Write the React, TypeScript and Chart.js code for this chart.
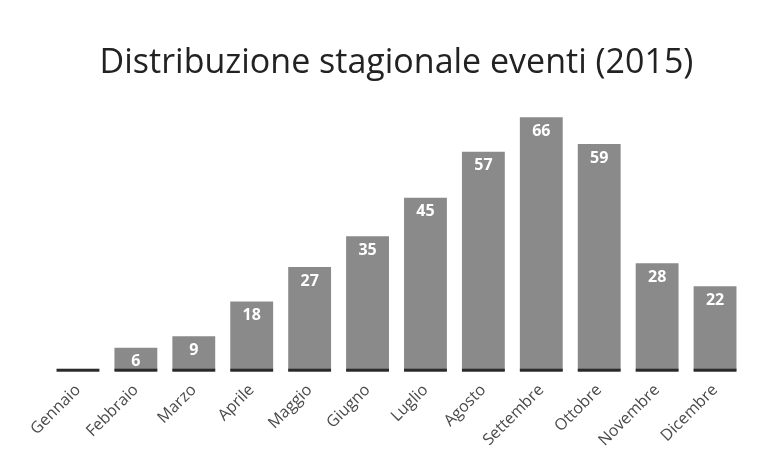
import React, { useEffect, useRef } from "react";
import { Chart, registerables } from "chart.js";

Chart.register(...registerables);

const categories = ["Gennaio", "Febbraio", "Marzo", "Aprile", "Maggio", "Giugno", "Luglio", "Agosto", "Settembre", "Ottobre", "Novembre", "Dicembre"];
const eventi = [0, 6, 9, 18, 27, 35, 45, 57, 66, 59, 28, 22];
const titleText = "Distribuzione stagionale eventi (2015)";

const valueLabels = {
  id: "valueLabels",
  afterDatasetsDraw(chart: any) {
    const ctx = chart.ctx;
    const meta = chart.getDatasetMeta(0);
    const base = chart.scales.y.getPixelForValue(0);
    ctx.save();
    meta.data.forEach((bar: any, i: number) => {
      ctx.fillStyle = "#2a2a2a";
      ctx.fillRect(bar.x - bar.width / 2, base - 2, bar.width, 3);
      const v = eventi[i];
      if (!v) return;
      ctx.fillStyle = "#ffffff";
      ctx.font = "bold 16px 'Open Sans', sans-serif";
      ctx.textAlign = "center";
      ctx.textBaseline = "top";
      ctx.fillText(String(v), bar.x, bar.y + 6);
    });
    ctx.restore();
  },
};

export default function App() {
  const ref = useRef<HTMLCanvasElement | null>(null);
  useEffect(() => {
    document.body.style.margin = "0";
    const chart = new Chart(ref.current as HTMLCanvasElement, {
      type: "bar",
      data: {
        labels: categories,
        datasets: [
          {
            data: eventi,
            backgroundColor: "#8a8a8a",
            borderWidth: 0,
            barPercentage: 0.74,
            categoryPercentage: 1,
          },
        ],
      },
      options: {
        responsive: false,
        animation: false,
        layout: { padding: { left: 49, right: 17, top: 10, bottom: 8 } },
        plugins: {
          legend: { display: false },
          tooltip: { enabled: false },
          title: {
            display: true,
            text: titleText,
            color: "#222222",
            font: { family: "'Open Sans', sans-serif", size: 34, weight: "normal" },
            padding: { top: 33, bottom: 18 },
          },
        },
        scales: {
          x: {
            grid: { display: false, drawTicks: false },
            border: { display: false },
            ticks: {
              color: "#4a4a4a",
              font: { family: "'Open Sans', sans-serif", size: 16 },
              maxRotation: 45,
              minRotation: 45,
              padding: 10,
            },
          },
          y: {
            display: false,
            min: 0,
            max: 70,
          },
        },
      },
      plugins: [valueLabels],
    });
    return () => chart.destroy();
  }, []);
  return <canvas ref={ref} width={761} height={468} style={{ display: "block" }} />;
}
